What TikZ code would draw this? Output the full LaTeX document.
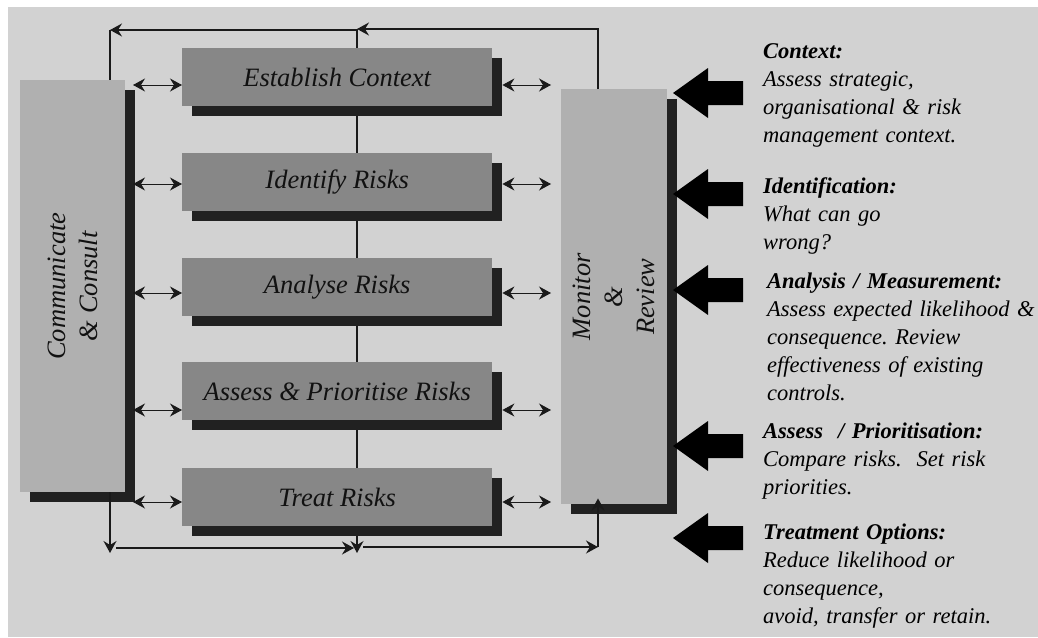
\documentclass[tikz,border=0pt]{standalone}
\usepackage{fontspec}
\setmainfont{Liberation Serif}
\usetikzlibrary{arrows.meta,shadows}
\definecolor{bgc}{HTML}{D2D2D2}
\definecolor{panelc}{HTML}{B0B0B0}
\definecolor{stepc}{HTML}{878787}
\definecolor{shadowc}{HTML}{212121}
\definecolor{inkc}{HTML}{111111}
\definecolor{linec}{HTML}{1A1A1A}
\frenchspacing

\begin{document}
\begin{tikzpicture}[x=1pt,y=-1pt,
  tip/.tip={Stealth[length=12pt,width=13pt,inset=4pt]},
  boxshadow/.style={general shadow={fill=shadowc,shadow xshift=10pt,shadow yshift=-10pt}},
  panel/.style={rectangle,fill=panelc,inner sep=0pt,anchor=north west,boxshadow},
  stepbox/.style={rectangle,fill=stepc,inner sep=0pt,anchor=north west,boxshadow,
    minimum width=310pt,minimum height=58pt,text=inkc,
    font=\fontsize{26.5}{32}\selectfont\itshape},
  sidelabel/.style={rotate=90,align=center,inner sep=0pt,text=inkc,
    font=\fontsize{26.5}{32}\selectfont\itshape},
  flow/.style={draw=linec,line width=1.3pt},
  link/.style={draw=linec,line width=0.9pt,{tip}-{tip}},
  note/.style={anchor=base west,inner sep=0pt,text width=272pt,align=left,
    font=\fontsize{22.5}{28}\selectfont\itshape},
  bigarrow/.pic={\fill[black] (0,0) -- (35,-25) -- (35,-12) -- (70,-12)
    -- (70,12) -- (35,12) -- (35,25) -- cycle;}]

\useasboundingbox (0,0) rectangle (1038,637);
\fill[bgc] (8,7) rectangle (1038,637);

% central spine, behind the process steps
\coordinate (ctop) at (357,29);
\coordinate (cbot) at (357,553);
\draw[flow,-{tip}] (ctop) -- (cbot);

% side panels
\node[panel,minimum width=105pt,minimum height=412pt] (comm) at (20,80) {};
\node[panel,minimum width=106pt,minimum height=415pt] (mon) at (561,89) {};
\node[sidelabel] at (comm.center) {Communicate\\\& Consult};
\node[sidelabel] at (mon.center) {Monitor\\\&\\Review};

% process steps
\node[stepbox] (est) at (182,48)  {Establish Context};
\node[stepbox] (ide) at (182,153) {Identify Risks};
\node[stepbox] (ana) at (182,258) {Analyse Risks};
\node[stepbox] (ass) at (182,362) {Assess \& Prioritise Risks};
\node[stepbox] (tre) at (182,468) {Treat Risks};

% two-way links to the side panels
\foreach \n/\y in {est/85,ide/184,ana/293,ass/410,tre/502}{
  \coordinate (\n-l) at (133,\y);
  \coordinate (\n-r) at (551,\y);
  \draw[link] (\n-l) -- (\n.west |- \n-l);
  \draw[link] ([xshift=10pt]\n.east |- \n-r) -- (\n-r);
}

% feedback loop over the top
\coordinate (ctl) at (110,30);
\draw[flow,-{tip}] ([xshift=37pt]mon.north west) |- (ctop);
\draw[flow,-{tip}] (ctop |- ctl) -- (ctl);
\draw[flow] (ctl) -- (ctl |- comm.north);

% flow along the bottom
\coordinate (cbl) at (110,548);
\coordinate (cbm) at (354,548);
\coordinate (cbr) at (598,547);
\draw[flow,-{tip}] (cbl |- comm.south) -- (110,553);
\draw[flow,-{tip}] ([xshift=6pt]cbl) -- (cbm);
\draw[flow,-{tip}] (363,547) -- (cbr);
\draw[flow,-{tip}] (cbr) -- ([yshift=6pt]cbr |- mon.south);

% inputs on the right
\pic (in1) at (673,93)  {bigarrow};
\pic (in2) at (673,194) {bigarrow};
\pic (in3) at (673,290) {bigarrow};
\pic (in4) at (673,446) {bigarrow};
\pic (in5) at (673,538) {bigarrow};

\node[note] (t1) at (763,58) {\textbf{Context:}\\Assess strategic,\\organisational \& risk\\management context.};
\node[note] (t2) at (763,193) {\textbf{Identification:}\\What can go\\wrong?};
\node[note] (t3) at (767,288) {\textbf{Analysis / Measurement:}\\Assess expected likelihood \&\\consequence. Review\\effectiveness of existing\\controls.};
\node[note] (t4) at (763,438) {\textbf{Assess\ \ / Prioritisation:}\\Compare risks.\ \ Set risk\\priorities.};
\node[note] (t5) at (763,539) {\textbf{Treatment Options:}\\Reduce likelihood or\\consequence,\\avoid, transfer or retain.};
\end{tikzpicture}
\end{document}
